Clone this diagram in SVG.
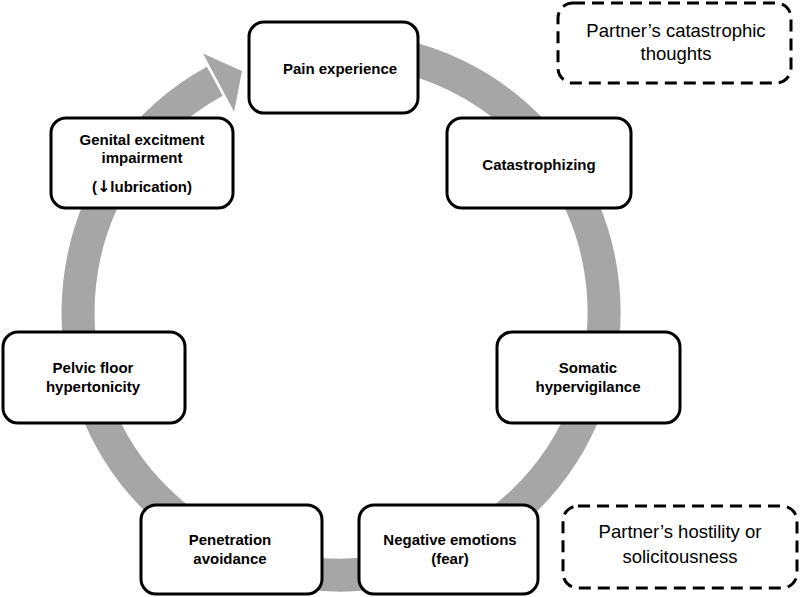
<svg xmlns="http://www.w3.org/2000/svg" width="800" height="597" viewBox="0 0 800 597">
<style>
.box{fill:#fff;stroke:#000;stroke-width:3}
.dash{fill:#fff;stroke:#000;stroke-width:3;stroke-dasharray:12 7}
.b{font-family:"Liberation Sans",Arial,sans-serif;font-weight:bold;font-size:15px;fill:#000;text-anchor:middle}
.n{font-family:"Liberation Sans",Arial,sans-serif;font-size:18.5px;fill:#000;text-anchor:middle}
.arr{font-family:"DejaVu Sans",sans-serif;font-size:16px}
.ring{fill:none;stroke:#a6a6a6;stroke-width:33}
</style>
<rect width="800" height="597" fill="#fff"/>
<g id="connectors">
<path class="ring" d="M 341 49 A 263 263 0 1 1 214.8 81.3"/>
<polygon points="203,53.5 242,71 234.1,111.8" fill="#a6a6a6"/>
</g>
<g id="pain">
<rect class="box" x="249" y="22" width="169" height="91" rx="15"/>
<text class="b" x="340" y="74">Pain experience</text>
</g>
<g id="catastrophizing">
<rect class="box" x="447" y="118" width="184" height="90" rx="15"/>
<text class="b" x="539" y="170">Catastrophizing</text>
</g>
<g id="somatic">
<rect class="box" x="497" y="332" width="183" height="91" rx="15"/>
<text class="b" x="588" y="373">Somatic</text>
<text class="b" x="588" y="392">hypervigilance</text>
</g>
<g id="negative">
<rect class="box" x="359" y="505" width="179" height="89" rx="15"/>
<text class="b" x="450" y="545">Negative emotions</text>
<text class="b" x="450" y="564">(fear)</text>
</g>
<g id="penetration">
<rect class="box" x="141" y="505" width="181" height="89" rx="15"/>
<text class="b" x="230" y="545">Penetration</text>
<text class="b" x="230" y="564">avoidance</text>
</g>
<g id="pelvic">
<rect class="box" x="3" y="332" width="182" height="91" rx="15"/>
<text class="b" x="93" y="373">Pelvic floor</text>
<text class="b" x="93" y="392">hypertonicity</text>
</g>
<g id="genital">
<rect class="box" x="51" y="118" width="182" height="90" rx="15"/>
<text class="b" x="142" y="145">Genital excitment</text>
<text class="b" x="142" y="163">impairment</text>
<text class="b" x="142" y="192">(<tspan class="arr">↓</tspan>lubrication)</text>
</g>
<g id="partner-thoughts">
<rect class="dash" x="558" y="3" width="233" height="80" rx="15"/>
<text class="n" x="676" y="37">Partner’s catastrophic</text>
<text class="n" x="676" y="60">thoughts</text>
</g>
<g id="partner-hostility">
<rect class="dash" x="563" y="506" width="234" height="82" rx="15"/>
<text class="n" x="680" y="538">Partner’s hostility or</text>
<text class="n" x="680" y="563">solicitousness</text>
</g>
</svg>
